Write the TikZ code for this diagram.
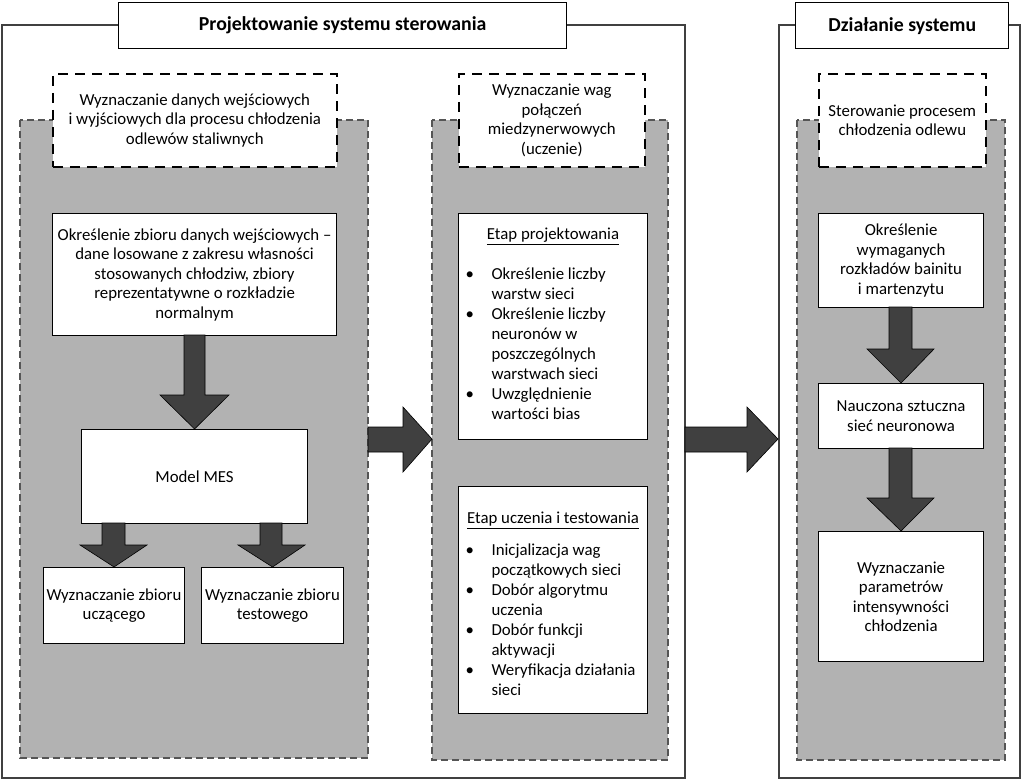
\documentclass[tikz,border=0pt]{standalone}
\usepackage{fontspec}
\setmainfont{Carlito}
\usetikzlibrary{positioning}
\definecolor{fillgray}{RGB}{178,178,178}
\definecolor{arrgray}{RGB}{64,64,64}
\definecolor{dashgray}{RGB}{85,85,85}
\newcommand{\blist}[1]{\begin{tabular}{@{}p{26pt}@{}l@{}}#1\end{tabular}}
\begin{document}
\begin{tikzpicture}[x=1pt,y=-1pt,
  txt/.style={font=\fontsize{16.8}{19.5}\selectfont,align=center},
  frame/.style={draw=black!75,line width=1.3pt},
  titlebox/.style={draw=black,line width=1.4pt,fill=white,font=\fontsize{19.8}{22}\selectfont\bfseries,inner sep=0pt},
  graybox/.style={draw=dashgray,fill=fillgray,dashed,dash pattern=on 7pt off 4pt,line width=1.1pt},
  headbox/.style={draw=black,fill=white,line width=1.6pt,dash pattern=on 10pt off 7pt,txt,inner sep=0pt},
  wbox/.style={draw=black,fill=white,line width=1.1pt,txt,inner sep=0pt},
  lbox/.style={draw=black,fill=white,line width=1.1pt,font=\fontsize{16.8}{20}\selectfont,inner sep=0pt},
  bigarrow/.style={fill=arrgray,draw=black,line width=0.6pt}
]
\useasboundingbox (0,0) rectangle (1024,780);
% outer frames
\draw[frame] (2,25) rectangle (685,778);
\draw[frame] (779,25) rectangle (1020,778);
\node[titlebox,minimum width=448pt,minimum height=46pt,anchor=north west] (t1) at (118,2) {Projektowanie systemu sterowania};
\node[titlebox,minimum width=213pt,minimum height=46pt,anchor=north west] (t2) at (795,2) {Działanie systemu};
% gray regions
\draw[graybox] (20,120) rectangle (368,758);
\draw[graybox] (432,120) rectangle (668,760);
\draw[graybox] (797,120) rectangle (1005,760);
% dashed header boxes
\node[headbox,minimum width=284pt,minimum height=93pt,anchor=north west] (h1) at (52,73) {Wyznaczanie danych wejściowych\\i wyjściowych dla procesu chłodzenia\\odlewów staliwnych};
\node[headbox,minimum width=186pt,minimum height=93pt,anchor=north west] (h2) at (458,73) {Wyznaczanie wag\\połączeń\\miedzynerwowych\\(uczenie)};
\node[headbox,minimum width=167pt,minimum height=93pt,anchor=north west] (h3) at (818,73) {Sterowanie procesem\\chłodzenia odlewu};
% left column
\node[wbox,minimum width=284pt,minimum height=122pt,anchor=north west] (a1) at (52,213) {Określenie zbioru danych wejściowych –\\dane losowane z zakresu własności\\stosowanych chłodziw, zbiory\\reprezentatywne o rozkładzie\\normalnym};
\node[wbox,minimum width=226pt,minimum height=94pt,anchor=north west] (a2) at (81,429) {Model MES};
\node[wbox,minimum width=141pt,minimum height=76pt,anchor=north west] (a3) at (43,567) {Wyznaczanie zbioru\\uczącego};
\node[wbox,minimum width=142pt,minimum height=76pt,anchor=north west] (a4) at (201,567) {Wyznaczanie zbioru\\testowego};
% middle column
\node[lbox,minimum width=189pt,minimum height=226pt,anchor=north west] (b1) at (458,213) {%
\parbox{175pt}{\centering\underline{Etap projektowania}\par\vspace{20pt}\raggedright
\blist{\textbullet & Określenie liczby\\ & warstw sieci\\ \textbullet & Określenie liczby\\ & neuronów w\\ & poszczególnych\\ & warstwach sieci\\ \textbullet & Uwzględnienie\\ & wartości bias}}};
\node[lbox,minimum width=189pt,minimum height=227pt,anchor=north west] (b2) at (458,486) {%
\parbox{175pt}{\vspace*{14pt}\centering\underline{Etap uczenia i testowania}\par\vspace{12pt}\raggedright
\blist{\textbullet & Inicjalizacja wag\\ & początkowych sieci\\ \textbullet & Dobór algorytmu\\ & uczenia\\ \textbullet & Dobór funkcji\\ & aktywacji\\ \textbullet & Weryfikacja działania\\ & sieci}}};
% right column
\node[wbox,minimum width=165pt,minimum height=94pt,anchor=north west] (c1) at (818,213) {Określenie\\wymaganych\\rozkładów bainitu\\i martenzytu};
\node[wbox,minimum width=165pt,minimum height=65pt,anchor=north west] (c2) at (818,383) {Nauczona sztuczna\\sieć neuronowa};
\node[wbox,minimum width=165pt,minimum height=130pt,anchor=north west] (c3) at (818,531) {Wyznaczanie\\parametrów\\intensywności\\chłodzenia};
% vertical arrows
\draw[bigarrow] (184,335) -- (205,335) -- (205,395) -- (229,395) -- (a2.north) -- (160,395) -- (184,395) -- cycle;
\draw[bigarrow] (102,523) -- (125,523) -- (125,545) -- (147,545) -- (a3.north) -- (80,545) -- (102,545) -- cycle;
\draw[bigarrow] (260,523) -- (282,523) -- (282,545) -- (305,545) -- (a4.north) -- (238,545) -- (260,545) -- cycle;
\draw[bigarrow] (889,307) -- (912,307) -- (912,349) -- (934,349) -- (c2.north) -- (867,349) -- (889,349) -- cycle;
\draw[bigarrow] (889,448) -- (912,448) -- (912,498) -- (934,498) -- (c3.north) -- (867,498) -- (889,498) -- cycle;
% horizontal arrows
\coordinate (g1) at (368,439);
\coordinate (g2) at (432,439);
\coordinate (f1) at (685,439);
\coordinate (f2) at (778,439);
\draw[bigarrow] (g1) ++(0,-12) -- (403,427) -- (403,407) -- (g2) -- (403,472) -- (403,452) -- (368,452) -- cycle;
\draw[bigarrow] (f1) ++(0,-12) -- (747,427) -- (747,407) -- (f2) -- (747,472) -- (747,452) -- (685,452) -- cycle;
\end{tikzpicture}
\end{document}
